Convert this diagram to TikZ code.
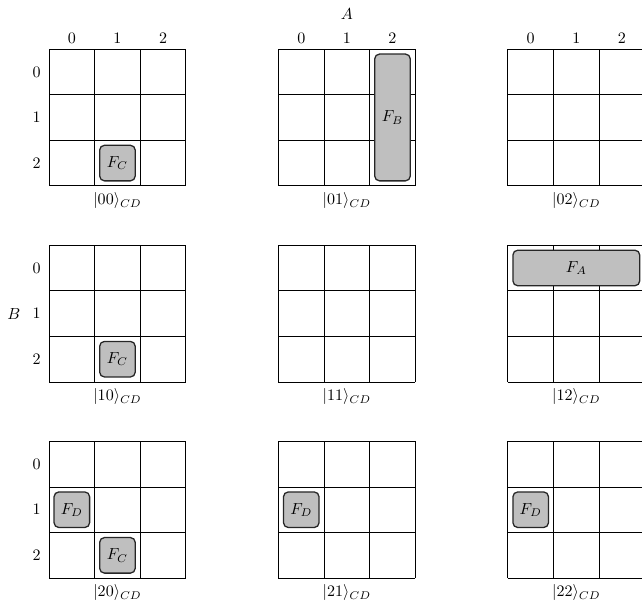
\documentclass[tikz,border=0pt]{standalone}
\usepackage{amsmath,amssymb}
\usepackage{tikz}
\usetikzlibrary{positioning}
\tikzset{
  cellgrid/.style={draw=black, line width=0.5pt},
  fbox/.style    ={rounded corners=3pt, draw=black!85, fill=gray!50, line width=0.8pt,
                   minimum width=#1, minimum height=0.78cm, inner sep=0pt},
  fbox/.default=0.78cm,
  ketlbl/.style  ={below, inner sep=4pt},
  idxlbl/.style  ={inner sep=3pt},
}
\begin{document}
\begin{tikzpicture}
\useasboundingbox (-1.075,1.075) rectangle (13.0,-12.19);
% the nine 3x3 grids
\foreach \r in {0,1,2} {
  \foreach \c in {0,1,2} {
    \begin{scope}[shift={(5.03*\c,-4.3*\r)}]
      \draw[cellgrid] (0,0) grid (3,-3);
      \node[ketlbl] (ket\r\c) at (1.5,-3) {$|\r\c\rangle_{CD}$};
    \end{scope}
  }
}
% column indices on top, row indices on the left
\foreach \c in {0,1,2} {
  \foreach \k in {0,1,2} { \node[idxlbl, above] (col\c\k) at (5.03*\c+\k+0.5,0) {$\k$}; }
}
\foreach \r in {0,1,2} {
  \foreach \k in {0,1,2} { \node[idxlbl, left=2pt] (row\r\k) at (0,-4.3*\r-\k-0.5) {$\k$}; }
}
\node (axA) at (6.53,0.77) {$A$};
\node (axB) at (-0.77,-5.8) {$B$};
% blocks
\node[fbox] (fc00) at (1.5,-2.5) {$F_C$};
\node[fbox] (fc10) at (1.5,-6.8) {$F_C$};
\node[fbox] (fc20) at (1.5,-11.1) {$F_C$};
\node[fbox] (fd20) at (0.5,-10.1) {$F_D$};
\node[fbox] (fd21) at (5.53,-10.1) {$F_D$};
\node[fbox] (fd22) at (10.56,-10.1) {$F_D$};
\node[fbox, minimum height=2.78cm] (fb01) at (7.53,-1.5) {$F_B$};
\node[fbox=2.78cm] (fa12) at (11.56,-4.8) {$F_A$};
\end{tikzpicture}
\end{document}
